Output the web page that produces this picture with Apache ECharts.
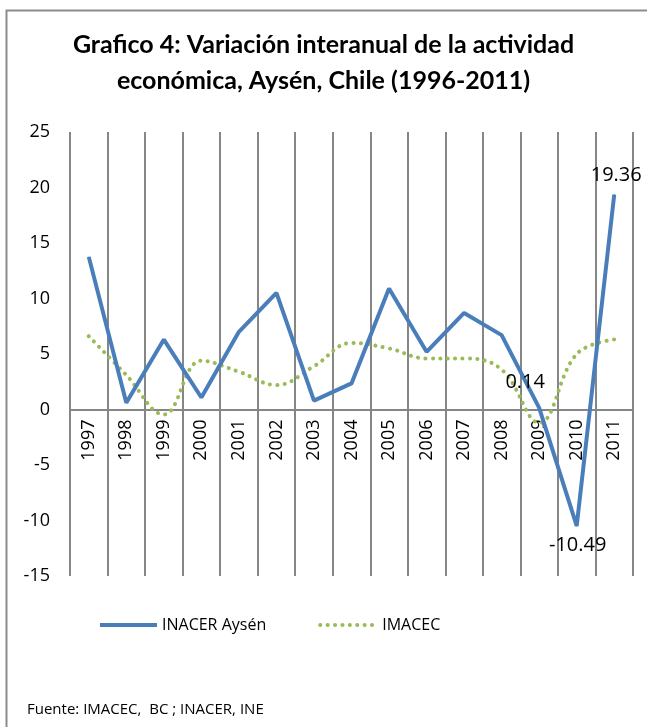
<!DOCTYPE html>
<html>
<head>
<meta charset="utf-8">
<script src="https://cdn.jsdelivr.net/npm/echarts@6/dist/echarts.min.js"></script>
<style>
html,body{margin:0;padding:0;background:#fff;}
#c{width:647px;height:727px;}
</style>
</head>
<body>
<div id="c"></div>
<script>
const years = ['1997','1998','1999','2000','2001','2002','2003','2004','2005','2006','2007','2008','2009','2010','2011'];
const inacer = [13.75, 0.6, 6.3, 1.08, 7.0, 10.5, 0.8, 2.35, 10.9, 5.2, 8.7, 6.7, 0.14, -10.49, 19.36];
const imacec = [6.6, 3.1, -0.45, 4.4, 3.4, 2.2, 3.9, 6.0, 5.5, 4.6, 4.6, 3.6, -1.2, 5.0, 6.3];
const labeledYears = ['2009','2010','2011'];
const yTicks = {min: -15, max: 25, step: 5};

const FONT = 'Open Sans';
const GRID_TOP = 132, GRID_BOTTOM = 151, H = 727;
const plotH = H - GRID_TOP - GRID_BOTTOM;
const zeroOffset = plotH * (0 - yTicks.min) / (yTicks.max - yTicks.min);

const chart = echarts.init(document.getElementById('c'));

function labelFor(i){
  const y = years[i];
  if (labeledYears.indexOf(y) < 0) return null;
  if (y === '2009') return {show:true, position:'top', offset:[-14,-10]};
  if (y === '2010') return {show:true, position:'bottom', offset:[1,4]};
  return {show:true, position:'top', offset:[2,-4]};
}

const inacerData = inacer.map((v,i)=>{
  const lb = labelFor(i);
  return lb ? {value:v, label:lb} : v;
});

chart.setOption({
  animation:false,
  backgroundColor:'#fff',
  title:[{
    text:'Grafico 4: Variación interanual de la actividad\neconómica, Aysén, Chile (1996-2011)',
    left:'center', top:22,
    textStyle:{fontFamily:'Lato', fontWeight:'bold', fontSize:25, color:'#000', lineHeight:36},
  },{
    text:'Fuente: IMACEC,  BC ; INACER, INE',
    left:22, top:697,
    textStyle:{fontFamily:FONT, fontWeight:'normal', fontSize:15, color:'#000'}
  }],
  graphic:[{
    type:'rect', silent:true,
    shape:{x:6.5, y:10.5, width:700, height:800},
    style:{fill:null, stroke:'#8c8c8c', lineWidth:2}
  }],
  legend:{
    top:612, left:93,
    itemWidth:57, itemHeight:10, itemGap:52,
    lineStyle:{width:4},
    itemStyle:{opacity:0},
    textStyle:{fontFamily:FONT, fontSize:16, color:'#000'},
    data:['INACER Aysén','IMACEC']
  },
  grid:{left:70, right:14, top:GRID_TOP, bottom:GRID_BOTTOM, containLabel:false},
  xAxis:{
    type:'category', data:years, boundaryGap:true,
    offset:-zeroOffset,
    axisLine:{onZero:false, lineStyle:{color:'#868686', width:2}},
    axisTick:{show:false},
    splitLine:{show:true, lineStyle:{color:'#868686', width:2}},
    axisLabel:{rotate:90, interval:0, margin:10, fontFamily:FONT, fontSize:18, color:'#000'}
  },
  yAxis:{
    type:'value', min:yTicks.min, max:yTicks.max, interval:yTicks.step,
    axisLine:{show:false}, axisTick:{show:false}, splitLine:{show:false},
    axisLabel:{margin:20, fontFamily:FONT, fontSize:18, color:'#000'}
  },
  series:[{
    name:'INACER Aysén', type:'line', data:inacerData,
    symbol:'circle', symbolSize:1, showSymbol:true,
    smooth:false,
    lineStyle:{color:'#4a7ebb', width:4},
    itemStyle:{color:'#4a7ebb'},
    label:{show:false, fontFamily:FONT, fontSize:20, color:'#000', formatter:(p)=>p.value.toFixed(2)},
    z:3
  },{
    name:'IMACEC', type:'line', data:imacec,
    symbol:'none', smooth:0.4,
    lineStyle:{color:'#9bbb59', width:4, type:[0.1,7.3], cap:'round'},
    itemStyle:{color:'#9bbb59'},
    z:2
  }]
});
</script>
</body>
</html>
